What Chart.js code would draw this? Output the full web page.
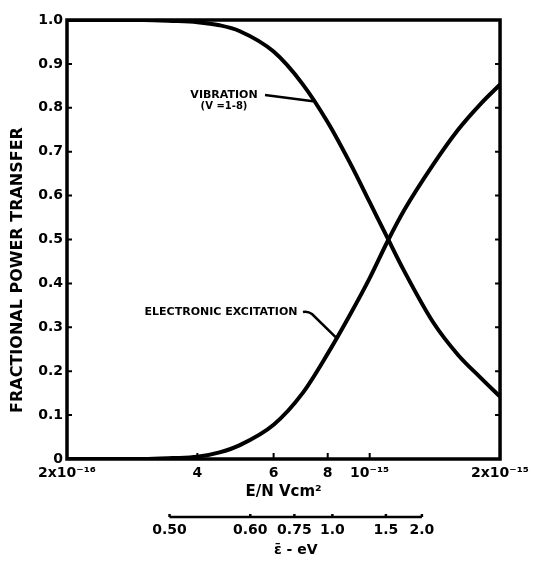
<!DOCTYPE html>
<html lang="en">
<head>
  <meta charset="UTF-8">
  <title>Fractional power transfer</title>
  <script src="https://cdn.jsdelivr.net/npm/chart.js@4.4.0/dist/chart.umd.min.js"></script>
  <style>
    body { margin: 0; background: #fff; }
    canvas { display: block; }
  </style>
</head>
<body>
  <canvas id="powerChart" width="535" height="562"></canvas>

<script>
  // E/N in V cm^2
  var fieldValues = [2e-16, 2.5e-16, 3e-16, 3.5e-16, 4e-16, 4.5e-16, 5e-16, 6e-16, 7e-16, 8e-16, 9e-16, 1e-15, 1.1e-15, 1.2e-15, 1.4e-15, 1.6e-15, 1.8e-15, 2e-15];
  var vibration = [1.0, 1.0, 1.0, 0.998, 0.995, 0.988, 0.975, 0.928, 0.854, 0.767, 0.675, 0.585, 0.503, 0.429, 0.312, 0.237, 0.186, 0.142];
  var electronic = [0, 0, 0, 0.002, 0.005, 0.015, 0.031, 0.078, 0.15, 0.24, 0.328, 0.412, 0.496, 0.566, 0.67, 0.75, 0.808, 0.853];

  // bottom axis ticks
  var xTicks = [2e-16, 4e-16, 6e-16, 8e-16, 1e-15, 2e-15];
  var xTickLabels = ["2x10\u207B\u00B9\u2076", "4", "6", "8", "10\u207B\u00B9\u2075", "2x10\u207B\u00B9\u2075"];

  // mean energy scale, placed at the matching E/N
  var evPositions = [3.45e-16, 5.3e-16, 6.7e-16, 8.2e-16, 1.09e-15, 1.32e-15];
  var evLabels = ["0.50", "0.60", "0.75", "1.0", "1.5", "2.0"];

  var yTicks = [0, 0.1, 0.2, 0.3, 0.4, 0.5, 0.6, 0.7, 0.8, 0.9, 1.0];
  var yTickLabels = ["0", "0.1", "0.2", "0.3", "0.4", "0.5", "0.6", "0.7", "0.8", "0.9", "1.0"];

  var boldFont = "'DejaVu Sans', sans-serif";

  function toPoints(values) {
    return fieldValues.map(function (x, i) { return { x: x, y: values[i] }; });
  }

  // box around the plot with inward ticks
  var framePlugin = {
    id: 'frame',
    afterDatasetsDraw: function (chart) {
      var ctx = chart.ctx;
      var a = chart.chartArea;
      var xs = chart.scales.x, ys = chart.scales.y;
      ctx.save();
      ctx.strokeStyle = '#000';
      ctx.lineWidth = 3.5;
      ctx.strokeRect(a.left, a.top, a.right - a.left, a.bottom - a.top);
      ctx.lineWidth = 2;
      ctx.beginPath();
      yTicks.forEach(function (v) {
        var y = ys.getPixelForValue(v);
        ctx.moveTo(a.left, y); ctx.lineTo(a.left + 5, y);
        ctx.moveTo(a.right, y); ctx.lineTo(a.right - 5, y);
      });
      xTicks.forEach(function (v) {
        var x = xs.getPixelForValue(v);
        ctx.moveTo(x, a.bottom); ctx.lineTo(x, a.bottom - 6);
      });
      ctx.stroke();
      ctx.restore();
    }
  };

  // second scale line under the E/N axis, y title, curve labels
  var extrasPlugin = {
    id: 'extras',
    afterDraw: function (chart) {
      var ctx = chart.ctx;
      var xs = chart.scales.x, ys = chart.scales.y, x2 = chart.scales.x2;
      ctx.save();
      ctx.strokeStyle = '#000';
      ctx.fillStyle = '#000';

      var lineY = 517;
      var x0 = x2.getPixelForValue(evPositions[0]);
      var x1 = x2.getPixelForValue(evPositions[evPositions.length - 1]);
      ctx.lineWidth = 2.5;
      ctx.beginPath();
      ctx.moveTo(x0, lineY); ctx.lineTo(x1, lineY);
      evPositions.forEach(function (v) {
        var x = x2.getPixelForValue(v);
        ctx.moveTo(x, lineY); ctx.lineTo(x, lineY - 3);
      });
      ctx.stroke();
      ctx.font = "bold 14px " + boldFont;
      ctx.textAlign = 'center';
      ctx.textBaseline = 'middle';
      ctx.fillText("\u03B5\u0304 - eV", (x0 + x1) / 2, 550);

      // y axis title, sitting a little below the middle of the axis
      ctx.save();
      ctx.translate(18, 270);
      ctx.rotate(-Math.PI / 2);
      ctx.font = "bold 16px " + boldFont;
      ctx.fillText("FRACTIONAL POWER TRANSFER", 0, 0);
      ctx.restore();

      // curve labels with leader lines
      ctx.font = "bold 11px " + boldFont;
      ctx.fillText("VIBRATION", 224, 95);
      ctx.font = "bold 10px " + boldFont;
      ctx.fillText("(V =1-8)", 224, 106);
      ctx.font = "bold 11px " + boldFont;
      ctx.fillText("ELECTRONIC EXCITATION", 221, 312);

      ctx.lineWidth = 2.5;
      ctx.beginPath();
      ctx.moveTo(265, 95);
      ctx.lineTo(xs.getPixelForValue(7.4e-16), ys.getPixelForValue(0.815));
      ctx.moveTo(303, 312);
      ctx.quadraticCurveTo(308, 311, 312, 314);
      ctx.lineTo(xs.getPixelForValue(8.4e-16), ys.getPixelForValue(0.275));
      ctx.stroke();
      ctx.restore();
    }
  };

  var ctx = document.getElementById('powerChart').getContext('2d');
  var powerChart = new Chart(ctx, {
    type: 'line',
    data: {
      datasets: [
        {
          label: "Vibration",
          data: toPoints(vibration),
          borderColor: '#000',
          borderWidth: 4,
          pointRadius: 0,
          cubicInterpolationMode: 'monotone',
          fill: false
        },
        {
          label: "Electronic excitation",
          data: toPoints(electronic),
          borderColor: '#000',
          borderWidth: 4,
          pointRadius: 0,
          cubicInterpolationMode: 'monotone',
          fill: false
        }
      ]
    },
    options: {
      responsive: false,
      animation: false,
      layout: { padding: { left: 0, top: 20, right: 33, bottom: 0 } },
      plugins: {
        legend: { display: false },
        tooltip: { enabled: false }
      },
      scales: {
        x: {
          type: 'logarithmic',
          position: 'bottom',
          weight: 0,
          min: 2e-16,
          max: 2e-15,
          afterBuildTicks: function (s) { s.ticks = xTicks.map(function (v) { return { value: v }; }); },
          afterFit: function (s) { s.height = 45; },
          grid: { display: false, drawTicks: false },
          border: { display: false },
          ticks: {
            autoSkip: false,
            maxRotation: 0,
            padding: 6,
            color: '#000',
            font: { family: boldFont, size: 14, weight: 'bold' },
            callback: function (v, i) { return xTickLabels[i]; }
          },
          title: {
            display: true,
            text: "E/N Vcm\u00B2",
            color: '#000',
            font: { family: boldFont, size: 15, weight: 'bold' },
            padding: { top: 0, bottom: 3 }
          }
        },
        x2: {
          type: 'logarithmic',
          position: 'bottom',
          weight: 1,
          min: 2e-16,
          max: 2e-15,
          afterBuildTicks: function (s) { s.ticks = evPositions.map(function (v) { return { value: v }; }); },
          afterFit: function (s) { s.height = 58; },
          grid: { display: false, drawTicks: false },
          border: { display: false },
          ticks: {
            autoSkip: false,
            maxRotation: 0,
            padding: 18,
            color: '#000',
            font: { family: boldFont, size: 14, weight: 'bold' },
            callback: function (v, i) { return evLabels[i]; }
          }
        },
        y: {
          type: 'linear',
          min: 0,
          max: 1,
          afterBuildTicks: function (s) { s.ticks = yTicks.map(function (v) { return { value: v }; }); },
          afterFit: function (s) { s.width = 67; },
          grid: { display: false, drawTicks: false },
          border: { display: false },
          ticks: {
            padding: 4,
            color: '#000',
            font: { family: boldFont, size: 14, weight: 'bold' },
            callback: function (v, i) { return yTickLabels[i]; }
          }
        }
      }
    },
    plugins: [framePlugin, extrasPlugin]
  });
</script>
</body>
</html>
